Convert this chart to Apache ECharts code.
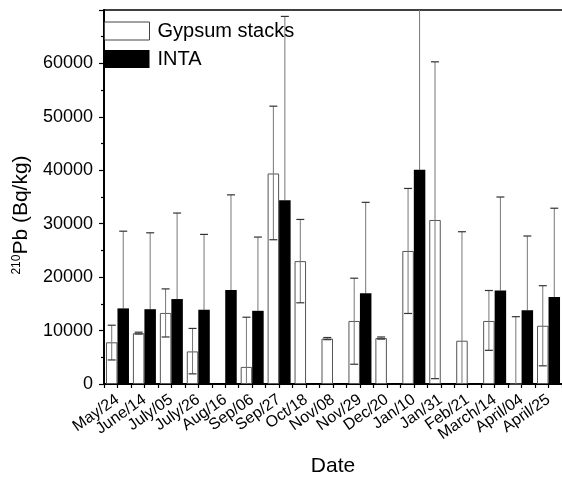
<!DOCTYPE html>
<html>
<head>
<meta charset="utf-8">
<script src="https://cdn.jsdelivr.net/npm/echarts@6/dist/echarts.min.js"></script>
<style>
html,body{margin:0;padding:0;background:#fff;}
#chart{width:562px;height:482px;}
</style>
</head>
<body>
<div id="chart"></div>
<script>
const categories = ['May/24','June/14','July/05','July/26','Aug/16','Sep/06','Sep/27','Oct/18','Nov/08','Nov/29','Dec/20','Jan/10','Jan/31','Feb/21','March/14','April/04','April/25'];
const gypsum     = [7800, 9500, 13300, 6100, null, 3200, 39400, 23000, 8500, 11800, 8600, 24900, 30700, 8100, 11800, 0, 10900];
const gypsumLow  = [4500, 9350, 8800, 1900, null, 0, 27000, 15200, 8300, 3700, 8400, 13200, 1000, 0, 6300, 0, 3400];
const gypsumHigh = [11000, 9700, 17800, 10400, null, 12500, 52000, 30800, 8700, 19800, 8800, 36600, 60300, 28500, 17500, 12600, 18400];
const inta       = [14150, 14000, 15900, 13900, 17600, 13700, 34400, null, null, 17000, null, 40100, null, null, 17500, 13800, 16300];
const intaHigh   = [28600, 28300, 32000, 28000, 35400, 27500, 68800, null, null, 34000, null, 78000, null, null, 35000, 27700, 32900];

const FONT = "'Liberation Sans', Arial, Helvetica, sans-serif";
const BAR_W = 11.5;
const CAP = 8;

function errData(lo, hi) {
  const out = [];
  for (let i = 0; i < categories.length; i++) {
    if (lo[i] != null && hi[i] != null) out.push([i, lo[i], hi[i]]);
  }
  return out;
}

function makeErr(side, lowerCap, color) {
  return function (params, api) {
    const i = api.value(0), lo = api.value(1), hi = api.value(2);
    const x = api.coord([i, 0])[0] + side * BAR_W / 2;
    const yLo = api.coord([i, lo])[1];
    const yHi = api.coord([i, hi])[1];
    const st = { stroke: color, lineWidth: 1 };
    const children = [
      { type: 'line', shape: { x1: x, y1: yLo, x2: x, y2: yHi }, style: st },
      { type: 'line', shape: { x1: x - CAP / 2, y1: yHi, x2: x + CAP / 2, y2: yHi }, style: { stroke: '#333', lineWidth: 1.2 } }
    ];
    if (lowerCap && lo > 0) {
      children.push({ type: 'line', shape: { x1: x - CAP / 2, y1: yLo, x2: x + CAP / 2, y2: yLo }, style: { stroke: '#333', lineWidth: 1.2 } });
    }
    return { type: 'group', children: children };
  };
}

const chart = echarts.init(document.getElementById('chart'), null, { renderer: 'canvas' });
chart.setOption({
  animation: false,
  backgroundColor: '#fff',
  textStyle: { fontFamily: FONT, color: '#000' },
  grid: { left: 104, top: 10, width: 462.4, height: 379 },
  legend: {
    orient: 'vertical', left: 104, top: 21, itemWidth: 45, itemHeight: 18, itemGap: 8,
    padding: 0,
    textStyle: { fontFamily: FONT, fontSize: 20, color: '#000', padding: [0, 0, 0, 3] },
    data: [
      { name: 'Gypsum stacks', icon: 'rect', itemStyle: { color: '#fff', borderColor: '#444', borderWidth: 1 } },
      { name: 'INTA', icon: 'rect', itemStyle: { color: '#000' } }
    ]
  },
  xAxis: [
    {
      type: 'category', data: categories, position: 'bottom', boundaryGap: true,
      name: 'Date', nameLocation: 'middle', nameGap: 72,
      nameTextStyle: { fontFamily: FONT, fontSize: 21, color: '#000' },
      axisLine: { lineStyle: { color: '#000', width: 2 } },
      axisTick: { show: true, interval: 0, length: 4, lineStyle: { color: '#000', width: 1.2 } },
      axisLabel: { interval: 0, rotate: 35, fontSize: 16, color: '#000', margin: 14, fontFamily: FONT },
      splitLine: { show: false }
    },
    {
      type: 'category', data: categories, position: 'bottom', boundaryGap: true,
      axisLine: { show: false },
      axisTick: { show: true, interval: 0, alignWithLabel: true, length: 4, lineStyle: { color: '#000', width: 1.2 } },
      axisLabel: { show: false },
      splitLine: { show: false }
    },
    {
      type: 'category', data: categories, position: 'top',
      axisLine: { show: true, lineStyle: { color: '#000', width: 1.5 } },
      axisTick: { show: false }, axisLabel: { show: false }, splitLine: { show: false }
    }
  ],
  yAxis: {
    type: 'value', min: 0, max: 70000, interval: 10000,
    name: '{sup|210}Pb (Bq/kg)', nameLocation: 'middle', nameGap: 70, nameRotate: 90,
    nameTextStyle: {
      fontFamily: FONT, fontSize: 21, color: '#000', padding: [0, 36, 0, 0],
      rich: { sup: { fontSize: 12, verticalAlign: 'top', padding: [0, 0, 9, 0], fontFamily: FONT, color: '#000' } }
    },
    axisLine: { show: true, lineStyle: { color: '#000', width: 2 } },
    axisTick: { show: true, length: 5, lineStyle: { color: '#000', width: 1.2 } },
    minorTick: { show: true, splitNumber: 2, length: 3, lineStyle: { color: '#000', width: 1.2 } },
    axisLabel: {
      fontSize: 18, color: '#000', margin: 11, fontFamily: FONT, showMaxLabel: false,
      formatter: function (v) { return String(v); }
    },
    splitLine: { show: false }
  },
  series: [
    {
      name: 'INTA err', type: 'custom', xAxisIndex: 0, z: 1, clip: true,
      renderItem: makeErr(1, false, '#777'),
      encode: { x: 0, y: [1, 2] },
      data: errData(inta, intaHigh), silent: true
    },
    {
      name: 'Gypsum stacks', type: 'bar', xAxisIndex: 0, data: gypsum, z: 2,
      barWidth: BAR_W, barGap: '0%',
      itemStyle: { color: '#fff', borderColor: '#555', borderWidth: 1 }
    },
    {
      name: 'INTA', type: 'bar', xAxisIndex: 0, data: inta, z: 2,
      barWidth: BAR_W, barGap: '0%',
      itemStyle: { color: '#000' }
    },
    {
      name: 'Gypsum err', type: 'custom', xAxisIndex: 0, z: 3, clip: true,
      renderItem: makeErr(-1, true, '#777'),
      encode: { x: 0, y: [1, 2] },
      data: errData(gypsumLow, gypsumHigh), silent: true
    }
  ]
});
</script>
</body>
</html>
